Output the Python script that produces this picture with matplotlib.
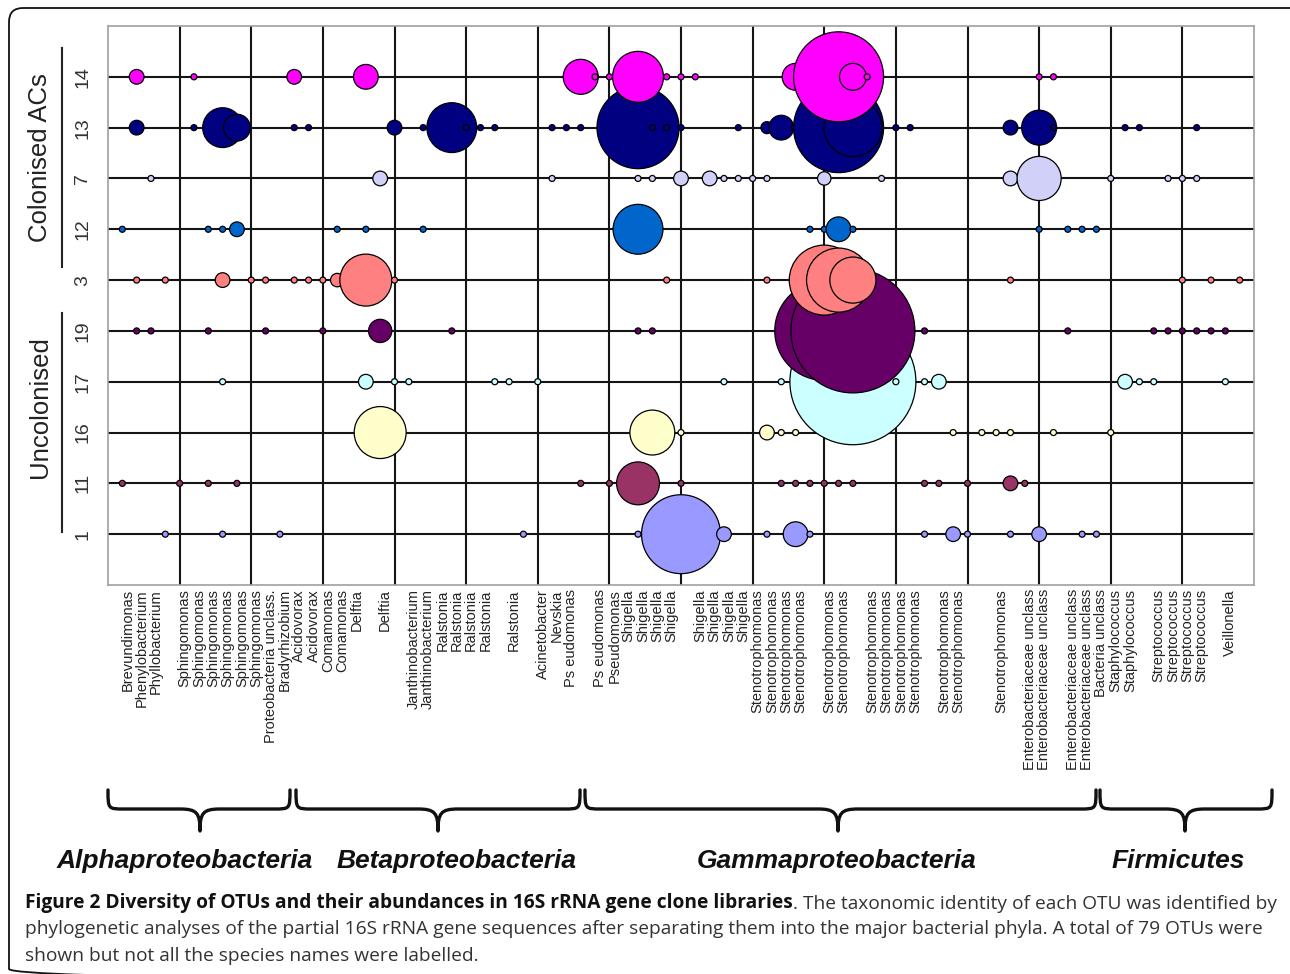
import numpy as np
import matplotlib
matplotlib.use("Agg")
import matplotlib.pyplot as plt
from matplotlib.path import Path
from matplotlib.patches import PathPatch, FancyBboxPatch
from matplotlib.transforms import ScaledTranslation

plt.rcParams["font.family"] = ["Liberation Sans", "DejaVu Sans"]

# clone libraries, bottom row first
libraries = ["1", "11", "16", "17", "19", "3", "12", "7", "13", "14"]

# OTU number (1-79) and clone count for every bubble, one pair of lists per library
otu_14 = [2, 6, 13, 18, 33, 34, 35, 37, 39, 40, 41, 48, 51, 52, 53, 65, 66]
n_14 = [6, 1, 6, 17, 34, 1, 1, 72, 1, 1, 1, 20, 225, 20, 1, 1, 1]

otu_13 = [2, 6, 7, 8, 9, 13, 14, 20, 22, 24, 25, 26, 27, 31, 32, 33, 37, 38, 39, 40,
          44, 46, 47, 48, 51, 52, 55, 56, 63, 65, 66, 71, 72, 76]
n_13 = [6, 1, 2, 44, 20, 1, 1, 6, 1, 69, 1, 1, 1, 1, 1, 1, 187, 1, 1, 1,
        1, 4, 17, 2, 225, 93, 1, 1, 6, 34, 1, 1, 1, 1]

otu_7 = [3, 19, 31, 37, 38, 40, 42, 43, 44, 45, 46, 50, 54, 63, 65, 70, 74, 75, 76]
n_7 = [1, 6, 1, 1, 1, 6, 6, 1, 1, 1, 1, 5, 1, 6, 54, 1, 1, 1, 1]

otu_12 = [1, 7, 8, 9, 16, 18, 22, 37, 49, 50, 51, 52, 65, 67, 68, 69]
n_12 = [1, 1, 1, 6, 1, 1, 1, 69, 1, 1, 17, 1, 1, 1, 1, 1]

otu_3 = [2, 4, 8, 10, 11, 13, 14, 15, 16, 18, 20, 39, 46, 50, 51, 52, 63, 75, 77, 79]
n_3 = [1, 1, 6, 1, 1, 1, 1, 1, 5, 75, 1, 1, 1, 136, 114, 59, 1, 1, 1, 1]

otu_19 = [2, 3, 7, 11, 15, 19, 24, 37, 38, 50, 52, 57, 67, 73, 74, 75, 76, 77, 78]
n_19 = [1, 1, 1, 1, 1, 15, 1, 1, 1, 272, 427, 1, 1, 1, 1, 1, 1, 1, 1]

otu_17 = [8, 18, 20, 21, 27, 28, 30, 43, 47, 48, 52, 55, 57, 58, 71, 72, 73, 78]
n_17 = [1, 6, 1, 1, 1, 1, 1, 1, 1, 1, 441, 1, 1, 6, 6, 1, 1, 1]

otu_16 = [19, 38, 40, 46, 47, 48, 59, 61, 62, 63, 66, 70]
n_16 = [75, 56, 1, 6, 1, 1, 1, 1, 1, 1, 1, 1]

otu_11 = [1, 5, 7, 9, 33, 35, 37, 40, 47, 48, 49, 50, 51, 52, 57, 58, 60, 63, 64]
n_11 = [1, 1, 1, 1, 1, 1, 51, 1, 1, 1, 1, 1, 1, 1, 1, 1, 1, 6, 1]

otu_1 = [4, 8, 12, 29, 37, 40, 43, 46, 48, 49, 57, 59, 60, 63, 65, 68, 69]
n_1 = [1, 1, 1, 1, 1, 173, 6, 1, 17, 1, 1, 6, 1, 1, 6, 1, 1]

bubbles = {"14": (otu_14, n_14), "13": (otu_13, n_13), "7": (otu_7, n_7),
           "12": (otu_12, n_12), "3": (otu_3, n_3), "19": (otu_19, n_19),
           "17": (otu_17, n_17), "16": (otu_16, n_16), "11": (otu_11, n_11),
           "1": (otu_1, n_1)}

colours = {"14": "#ff00ff", "13": "#000080", "7": "#d0d0f8", "12": "#0066cc",
           "3": "#ff8080", "19": "#660066", "17": "#ccffff", "16": "#ffffcc",
           "11": "#993366", "1": "#9999ff"}

# labelled OTUs
label_otu = [1, 2, 3, 5, 6, 7, 8, 9, 10, 11, 12, 13, 14, 15, 16, 17, 19, 21, 22,
             23, 24, 25, 26, 28, 30, 31, 32, 34, 35, 36, 37, 38, 39, 41, 42, 43, 44,
             45, 46, 47, 48, 50, 51, 53, 54, 55, 56, 58, 59, 62, 64, 65, 67, 68,
             69, 70, 71, 73, 74, 75, 76, 78]
label_name = (["Brevundimonas", "Phenylobacterium", "Phyllobacterium"]
              + ["Sphingomonas"] * 6
              + ["Proteobacteria unclass.", "Bradyrhizobium", "Acidovorax", "Acidovorax",
                 "Comamonas", "Comamonas", "Delftia", "Delftia",
                 "Janthinobacterium", "Janthinobacterium"]
              + ["Ralstonia"] * 5
              + ["Acinetobacter", "Nevskia", "Ps eudomonas", "Ps eudomonas", "Pseudomonas"]
              + ["Shigella"] * 8
              + ["Stenotrophomonas"] * 13
              + ["Enterobacteriaceae unclass"] * 4
              + ["Bacteria unclass", "Staphylococcus", "Staphylococcus"]
              + ["Streptococcus"] * 4
              + ["Veillonella"])

phyla = ["Alphaproteobacteria", "Betaproteobacteria", "Gammaproteobacteria", "Firmicutes"]

W, H = 1290, 974
fig = plt.figure(figsize=(W / 100, H / 100), dpi=100)

# page layer in pixel coordinates (frame, braces, caption)
pg = fig.add_axes([0, 0, 1, 1])
pg.set_xlim(0, W)
pg.set_ylim(H, 0)
pg.axis("off")

ax = fig.add_axes([108 / W, 1 - 585 / H, (1254 - 108) / W, (585 - 26) / H])
ax.set_xlim(0, 80)
ax.set_ylim(0, 11)
ax.set_facecolor("white")

for xv in range(5, 80, 5):
    ax.axvline(xv, color="#151515", lw=1.5, zorder=1)
for yv in range(1, len(libraries) + 1):
    ax.axhline(yv, color="#151515", lw=1.5, zorder=1)

# single-clone bubble is 6 px wide, area grows with clone count
unit = (6 * 0.72) ** 2
for pos, lib in enumerate(libraries, start=1):
    otus, counts = bubbles[lib]
    ax.scatter(otus, [pos] * len(otus), s=np.array(counts) * unit,
               c=colours[lib], edgecolors="black", linewidths=0.9, zorder=2 + pos)

ax.set_yticks(range(1, len(libraries) + 1))
ax.set_yticklabels(libraries, rotation=90, va="center", fontsize=14, color="#333333")
ax.set_xticks(label_otu)
ax.set_xticklabels(label_name, rotation=90, fontsize=10.5, color="#222222")
ax.tick_params(axis="y", length=0, pad=12)
ax.tick_params(axis="x", length=0, pad=3)
shift = ScaledTranslation(5 / 100, 0, fig.dpi_scale_trans)
for lb in ax.get_xticklabels():
    lb.set_transform(lb.get_transform() + shift)
for sp in ax.spines.values():
    sp.set_color("#a0a0a0")
    sp.set_linewidth(1.2)

# library groups
pg.plot([62, 62], [48, 267], color="#222222", lw=1.5)
pg.plot([62, 62], [313, 532], color="#222222", lw=1.5)
pg.text(40, 158, "Colonised ACs", rotation=90, ha="center", va="center",
        fontsize=18.5, color="#222222")
pg.text(40, 407, "Uncolonised", rotation=90, ha="center", va="center",
        fontsize=18.5, color="#222222")


def brace(x0, x1, xt, top=790, mid=809, bot=831, r=16, t=20):
    verts = [(x0, top), (x0, mid), (x0, mid), (x0 + r, mid),
             (xt - t, mid),
             (xt - 3, mid), (xt, mid + 4), (xt, bot),
             (xt, mid + 4), (xt + 3, mid), (xt + t, mid),
             (x1 - r, mid),
             (x1, mid), (x1, mid), (x1, top)]
    codes = ([Path.MOVETO] + [Path.CURVE4] * 3 + [Path.LINETO] + [Path.CURVE4] * 3
             + [Path.CURVE4] * 3 + [Path.LINETO] + [Path.CURVE4] * 3)
    pg.add_patch(PathPatch(Path(verts, codes), fill=False, lw=2.4,
                           edgecolor="#111111", capstyle="round", joinstyle="round"))


brace(108, 290, 200)
brace(296, 580, 438)
brace(585, 1096, 838)
brace(1100, 1272, 1185)

for name, xc in zip(phyla, [185, 457, 837, 1178]):
    pg.text(xc, 861, name, ha="center", va="center", fontsize=19,
            fontweight="bold", fontstyle="italic", color="#111111")

# caption
cfont = ["Open Sans", "Liberation Sans"]
cfs = 13.75
cap = pg.text(25, 903, "Figure 2 Diversity of OTUs and their abundances in 16S rRNA gene clone libraries",
              ha="left", va="center", fontsize=cfs, fontweight="bold", color="#111111",
              family=cfont)
pg.annotate(". The taxonomic identity of each OTU was identified by", xy=(1, 0),
            xycoords=cap, ha="left", va="bottom", fontsize=cfs, color="#333333",
            family=cfont)
pg.text(25, 929, "phylogenetic analyses of the partial 16S rRNA gene sequences after separating "
        "them into the major bacterial phyla. A total of 79 OTUs were",
        ha="left", va="center", fontsize=cfs, color="#333333", family=cfont)
pg.text(25, 956, "shown but not all the species names were labelled.",
        ha="left", va="center", fontsize=cfs, color="#333333", family=cfont)

pg.add_patch(FancyBboxPatch((9, 8), 1300, 975, boxstyle="round,pad=0,rounding_size=14",
                            fill=False, edgecolor="#111111", lw=1.3))

fig.savefig("out.png", dpi=100)
